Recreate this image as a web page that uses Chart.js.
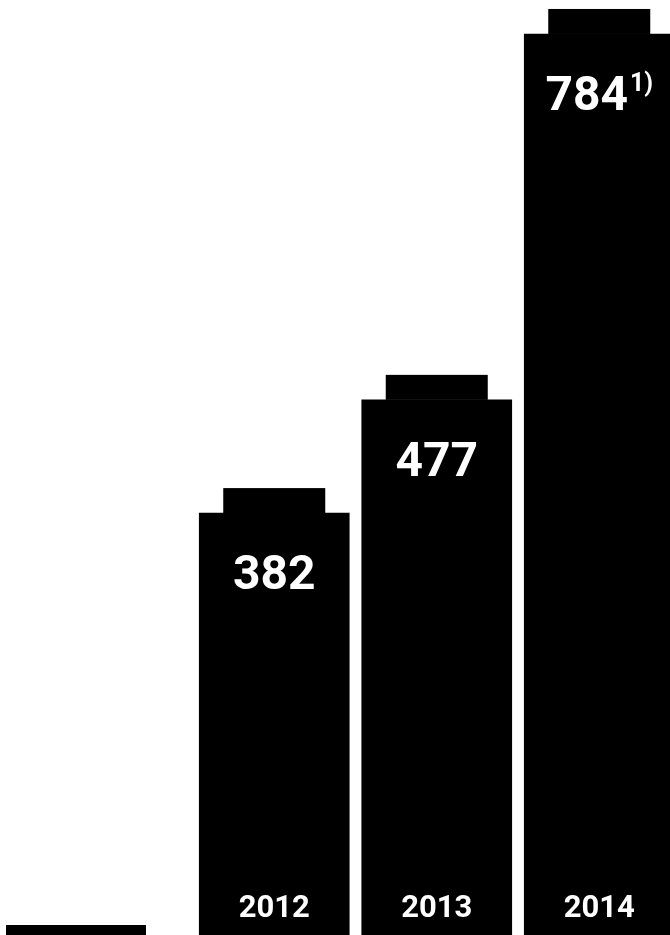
<!DOCTYPE html>
<html>
<head>
<meta charset="utf-8">
<script src="https://cdn.jsdelivr.net/npm/chart.js@4"></script>
<style>
    html, body { margin:0; padding:0; background:#fff; width:670px; height:935px; overflow:hidden; }
    #wrap { position:relative; width:700px; height:935px; }
    #stub { position:absolute; left:6px; top:925px; width:140px; height:10px; background:#000; }
</style>
</head>
<body>
<div id="wrap">
    <canvas id="myChart" width="700" height="935"></canvas>
    <div id="stub"></div>
</div>
<script>
    var years = ["2012", "2013", "2014"]
    var values = [382, 477, 784]
    var notes = ["", "", "1)"]

    var fontName = "Roboto, 'Liberation Sans', sans-serif"

    // battery style cap on top of every bar + white labels inside
    var batteryPlugin = {
        id: 'battery',
        afterDatasetsDraw: function(chart){
            var ctx = chart.ctx
            var meta = chart.getDatasetMeta(0)
            ctx.save()
            meta.data.forEach(function(bar, i){
                ctx.fillStyle = '#000'
                ctx.fillRect(bar.x - 51, bar.y - 25, 102, 25)

                ctx.fillStyle = '#fff'
                ctx.textBaseline = 'alphabetic'

                // value (+ footnote mark)
                ctx.font = 'bold 48px ' + fontName
                var txt = String(values[i])
                var w = ctx.measureText(txt).width
                ctx.font = 'bold 25px ' + fontName
                var sw = notes[i] ? ctx.measureText(notes[i]).width + 2 : 0
                var startX = bar.x - (w + sw) / 2
                ctx.textAlign = 'left'
                ctx.font = 'bold 48px ' + fontName
                ctx.fillText(txt, startX, bar.y + 76)
                if (notes[i]) {
                    ctx.font = 'bold 25px ' + fontName
                    ctx.fillText(notes[i], startX + w + 2, bar.y + 57)
                }

                // year at the bottom of the bar
                ctx.textAlign = 'center'
                ctx.font = 'bold 31px ' + fontName
                ctx.fillText(years[i], bar.x, 917)
            })
            ctx.restore()
        }
    }

    var ctx = document.getElementById('myChart')
    var myChart = new Chart(ctx, {
        type: 'bar',
        data: {
            labels: years,
            datasets: [{
                data: values,
                backgroundColor: '#000',
                borderWidth: 0,
                barThickness: 150
            }]
        },
        options: {
            responsive: false,
            animation: false,
            devicePixelRatio: 1,
            layout: { padding: { left: 193, right: 19.5, top: 0, bottom: 0 } },
            plugins: { legend: { display: false }, tooltip: { enabled: false } },
            scales: {
                x: { display: false },
                y: { display: false, min: 28, max: 812.5 }
            }
        },
        plugins: [batteryPlugin]
    })
</script>
</body>
</html>
